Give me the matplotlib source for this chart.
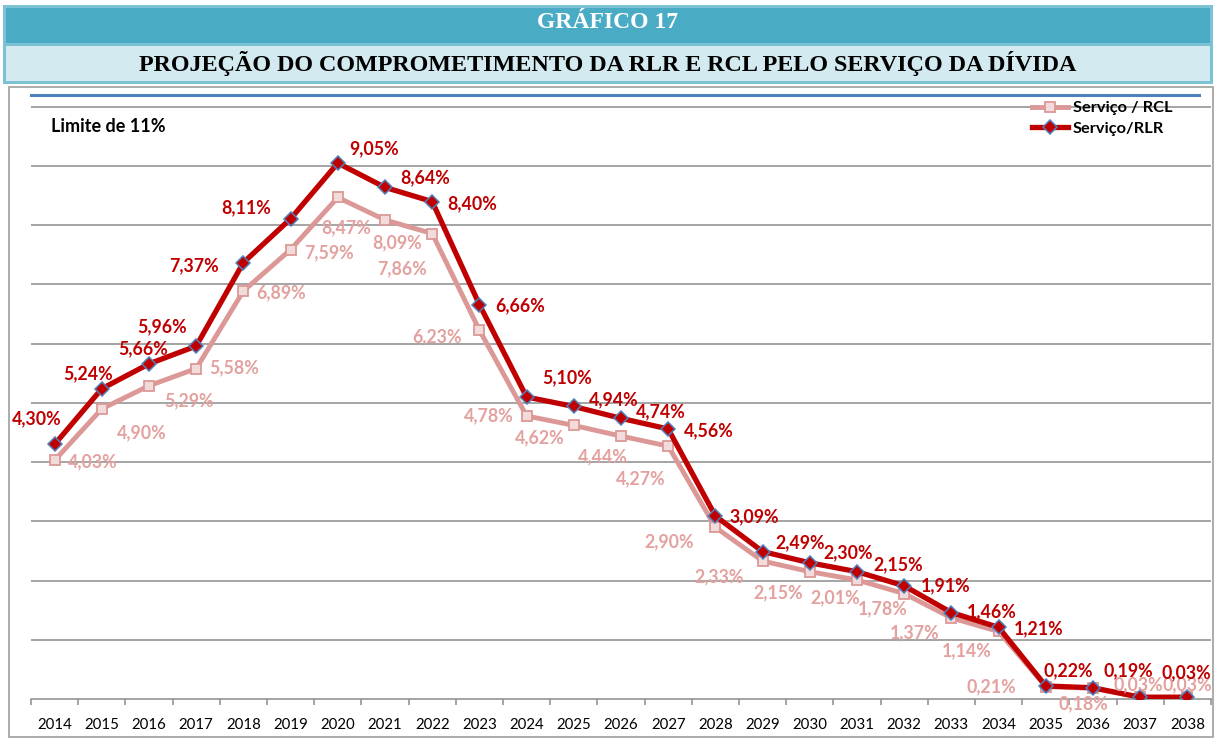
import matplotlib
matplotlib.use("Agg")
import matplotlib.pyplot as plt
from matplotlib.lines import Line2D
from matplotlib.patches import Rectangle

plt.rcParams["font.family"] = ["Lato", "DejaVu Sans"]

anos = ["2014", "2015", "2016", "2017", "2018", "2019", "2020", "2021", "2022",
        "2023", "2024", "2025", "2026", "2027", "2028", "2029", "2030", "2031",
        "2032", "2033", "2034", "2035", "2036", "2037", "2038"]
servico_rcl = [4.03, 4.90, 5.29, 5.58, 6.89, 7.59, 8.47, 8.09, 7.86, 6.23, 4.78, 4.62,
               4.44, 4.27, 2.90, 2.33, 2.15, 2.01, 1.78, 1.37, 1.14, 0.21, 0.18, 0.03, 0.03]
servico_rlr = [4.30, 5.24, 5.66, 5.96, 7.37, 8.11, 9.05, 8.64, 8.40, 6.66, 5.10, 4.94,
               4.74, 4.56, 3.09, 2.49, 2.30, 2.15, 1.91, 1.46, 1.21, 0.22, 0.19, 0.03, 0.03]

# where each data label sits relative to its point (pixels, y up); None = hidden
off_rlr = [(-18, 26), (-14, 15), (-6, 15), (-34, 19), (-49, -3), (-44, 11), (36, 14),
           (40, 10), (40, -2), (41, -1), (40, 19), (40, 7), (40, 7), (41, -2), (39, -1),
           (38, 9), (38, 10), (41, 7), (41, 0), (40, 1), (40, -1), (22, 15), (35, 17),
           (46, 24), None]
off_rcl = [(38, -1), (40, -24), (40, -15), (38, 1), (38, -2), (38, -3), (8, -30),
           (12, -23), (-30, -35), (-42, -7), (-38, 0), (-34, -12), (-18, -21), (-28, -33),
           (-46, -14), (-44, -16), (-32, -21), (-22, -18), (-22, -15), (-37, -15),
           (-32, -19), (-54, 0), (-10, -15), (-2, 12), (0, 12)]

W, H = 1215, 738
COR_RLR = "#C00000"
COR_RCL = "#DB9896"
COR_RCL_TXT = "#E3A19F"
GRID = "#8C8C8C"


def fx(px):
    return px / W


def fy(py):
    return 1 - py / H


fig = plt.figure(figsize=(W / 100, H / 100), dpi=100)
fig.patch.set_facecolor("white")

# title boxes
fig.add_artist(Rectangle((fx(3), fy(84)), fx(1213) - fx(3), 79 / H, transform=fig.transFigure,
                         facecolor="#7CC2D5", edgecolor="none"))
fig.add_artist(Rectangle((fx(6), fy(43)), fx(1210) - fx(6), 35 / H, transform=fig.transFigure,
                         facecolor="#4AABC5", edgecolor="none"))
fig.add_artist(Rectangle((fx(6), fy(81)), fx(1210) - fx(6), 35 / H, transform=fig.transFigure,
                         facecolor="#D3EAF1", edgecolor="none"))
fig.text(0.5, fy(23), "GRÁFICO 17", ha="center", va="center", color="white",
         family="Liberation Serif", fontweight="bold", fontsize=17)
fig.text(0.5, fy(63), "PROJEÇÃO DO COMPROMETIMENTO DA RLR E RCL PELO SERVIÇO DA DÍVIDA",
         ha="center", va="center", color="black", family="Liberation Serif",
         fontweight="bold", fontsize=17.4)

# chart border
fig.add_artist(Rectangle((fx(9), fy(737)), fx(1213) - fx(9), (737 - 87) / H,
                         transform=fig.transFigure, facecolor="none",
                         edgecolor="#A6A6A6", lw=1.3))

ax = fig.add_axes([fx(31), fy(699), fx(1211) - fx(31), (699 - 95) / H])
x = list(range(len(anos)))

ax.plot(x, servico_rcl, color=COR_RCL, lw=3.5, marker="s", ms=7.2, mfc="#F2DCDB",
        mec=COR_RCL, mew=1.3, label="Serviço / RCL", zorder=3)
ax.plot(x, servico_rlr, color=COR_RLR, lw=3.8, marker="D", ms=7, mfc=COR_RLR,
        mec="#4F81BD", mew=1.1, label="Serviço/RLR", zorder=4)

for xi, v, off in zip(x, servico_rcl, off_rcl):
    if off is None:
        continue
    ax.annotate(f"{v:.2f}%".replace(".", ","), (xi, v), xytext=off,
                textcoords="offset pixels", ha="center", va="center",
                color=COR_RCL_TXT, fontsize=12.8, fontweight="bold", zorder=5)
for xi, v, off in zip(x, servico_rlr, off_rlr):
    if off is None:
        continue
    ax.annotate(f"{v:.2f}%".replace(".", ","), (xi, v), xytext=off,
                textcoords="offset pixels", ha="center", va="center",
                color=COR_RLR, fontsize=12.8, fontweight="bold", zorder=6)

ax.set_xlim(-0.5, len(anos) - 0.5)
ax.set_ylim(0, 10.2)
ax.set_yticks(range(1, 11))
ax.yaxis.grid(True, color=GRID, lw=1.1)
ax.set_axisbelow(True)
ax.tick_params(axis="y", length=0, labelleft=False)

ax.set_xticks(x)
ax.set_xticklabels(anos, fontsize=10.8)
ax.set_xticks([i - 0.5 for i in range(len(anos) + 1)], minor=True)
ax.tick_params(axis="x", which="major", length=0, pad=14)
ax.tick_params(axis="x", which="minor", length=4, width=1.1, color=GRID, direction="out")

for s in ["left", "right", "top"]:
    ax.spines[s].set_visible(False)
ax.spines["bottom"].set_color(GRID)
ax.spines["bottom"].set_linewidth(1.1)

# blue line on top of the plot area
fig.add_artist(Line2D([fx(31), fx(1199)], [fy(95), fy(95)], transform=fig.transFigure,
                      color="#4F81BD", lw=2.2))

fig.text(fx(51), fy(126), "Limite de 11%", ha="left", va="center", fontsize=13,
         fontweight="bold", color="black")

fig.legend(loc="upper left", bbox_to_anchor=(fx(1032), fy(101)), frameon=False,
           prop={"family": "Lato", "weight": "bold", "size": 11.8},
           handlelength=2.2, handletextpad=0.3, labelspacing=0.35,
           borderpad=0, borderaxespad=0)

fig.savefig("out.png", dpi=100)
